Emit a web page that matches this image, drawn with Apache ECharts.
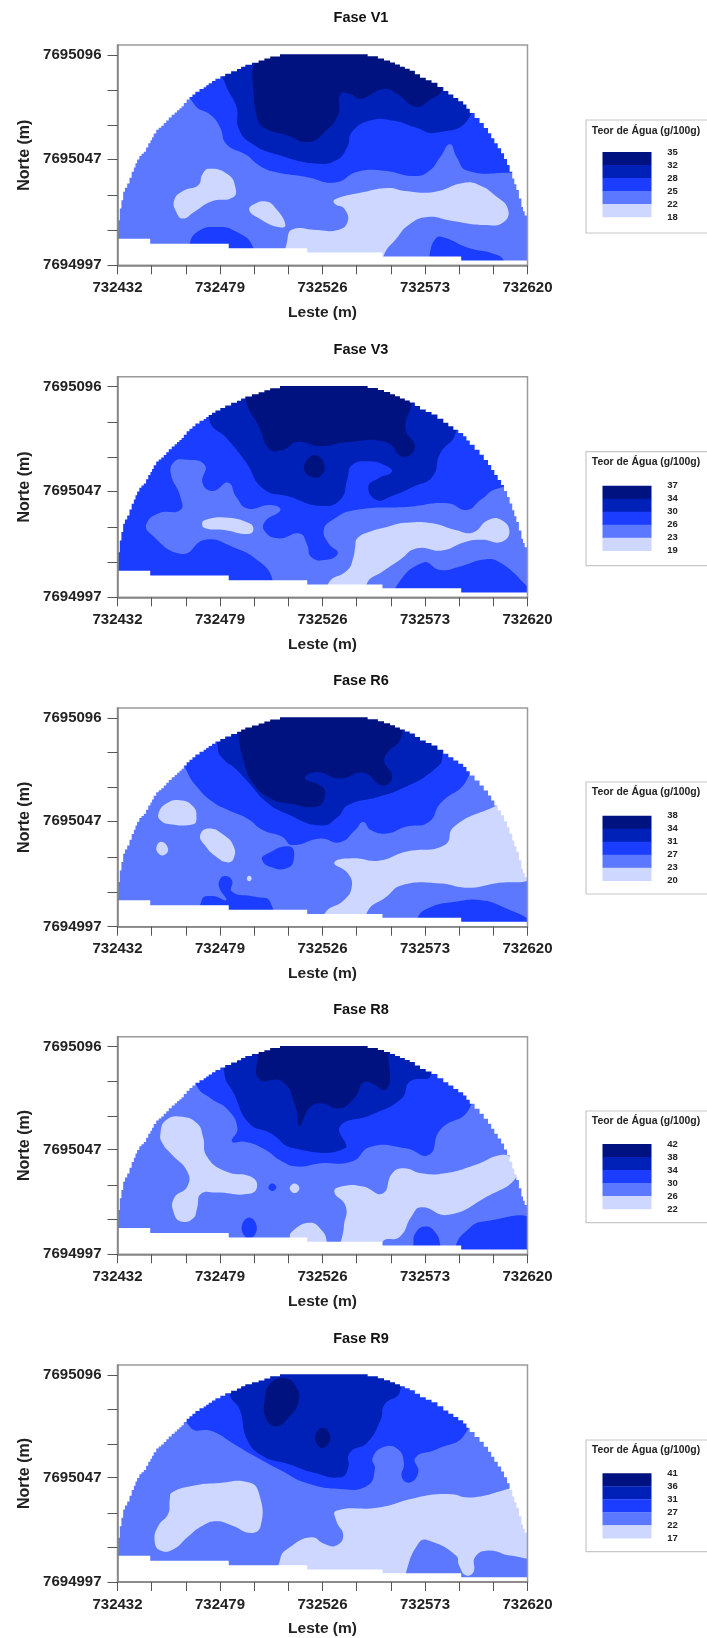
<!DOCTYPE html>
<html><head><meta charset="utf-8">
<style>html,body{margin:0;padding:0;background:#fff}#c{width:707px;height:1638px;filter:blur(0.7px)}</style>
<script src="https://cdn.jsdelivr.net/npm/echarts@6/dist/echarts.min.js"></script>
</head><body><div id="c"></div>
<script>
// Level colours: 0 lightest ... 4 darkest
const levelColors = ['#cdd7ff','#5b78ff','#1a3dff','#0021b8','#00127f'];
const titles = ['Fase V1','Fase V3','Fase R6','Fase R8','Fase R9'];
const xTickLabels = [732432,732479,732526,732573,732620];
const yTickLabels = [7694997,7695047,7695096];
const xTicks = [732432,732447.67,732463.33,732479,732494.67,732510.33,732526,732541.67,732557.33,732573,732588.67,732604.33,732620];
const yTicks = [7694997,7695013.5,7695030,7695047,7695063,7695079.5,7695096];
const legendTitle = 'Teor de Água (g/100g)';
const legendV1 = [35,32,28,25,22,18];
const legendV3 = [37,34,30,26,23,19];
const legendR6 = [38,34,31,27,23,20];
const legendR8 = [42,38,34,30,26,22];
const legendR9 = [41,36,31,27,22,17];
const EAST0 = 732432, NORTH0 = 7694997, EAST1 = 732620, NORTH_SPAN = 103.7;

// All contour vertices are metres east / north of (EAST0, NORTH0)
const domeLeft = [[0,15.6],[0.3,15.6],[1.8,26.7],[3.4,34.6],[5.5,38.5],[7.5,44],[9,48],[11,51.5],[13.1,53.5],[15.1,57.5],[16.6,60.3],[18.9,63.8],[21.2,65.7],[23.5,68.2],[26.2,70.9],[28.4,73],[30.4,74.9],[33,78],[35.7,80.4],[39.5,83],[41.8,84.7],[44.9,86.7],[49.4,89],[54.8,91.4],[58.6,93.5],[64.7,95.4],[70,97.3],[79,99.3]];
const domeRight = [[110,99.3],[119.4,97.4],[125,95.5],[129.5,93.5],[134,91.6],[138.7,88.3],[144,85.9],[149.4,82],[154,78.8],[158.5,75.7],[161.5,71.7],[166,67],[169.9,62.2],[172.8,57.5],[175.9,52.8],[178.6,47.2],[181,40.9],[182.9,35.4],[185.2,27.5],[186.7,23.5],[188,23.5]];
const bottomSteps = [[0,12.5],[15,10.2],[51,8],[87,6],[121.5,4.2],[157.6,2.3]];

const fullRect = [[-2,-2],[191,-2],[191,106],[-2,106]];

// Fase V1
const v1L2 = [[35,76],[43,70.5],[47,65],[50,57],[59,52],[65,47],[72,44],[87,41.5],[100,39],[110,44],[122,44.5],[136.5,42],[143,44.5],[148,51],[152.5,57],[155.5,51],[160.5,44.5],[181,43.5],[192,43.5],[192,108],[20,108]];
const v1L3 = [[48.8,87],[50.4,83],[54.6,74.4],[55.6,64.3],[62,57],[74.3,51.8],[90.9,47.9],[100.2,49.4],[105.4,55.7],[107.5,62.7],[115.8,68.2],[126.2,68.2],[136.5,65],[145.9,62.4],[161.4,69.8],[172,108],[40,108]];
const v1L4 = [[62.3,93],[62.3,83.8],[64,69.8],[67,65],[78.4,61],[87.8,58],[95,62.7],[101,70.5],[102.3,80.7],[106.4,80.7],[111.6,78.4],[122,83],[128.2,80.7],[136.5,74.8],[142.8,77.6],[148.6,83.8],[140,108],[70,108]];
const v1A = [[42,45.5],[50.4,43],[54,37],[53,32],[43,30],[35,25],[30,22],[27,25],[26,30.6],[30,35],[37,37.7],[39,43]];
const v1B = [[68,30],[72,27.5],[77,19],[73.5,18],[65,22],[60.4,26],[63,29]];
const v1C = [[99.6,31],[113,34.5],[124,36.4],[132,35],[145,34.5],[159,38.8],[166,37.7],[173,33],[179,26.6],[177,20.3],[168,19],[153,21],[142,22.7],[133.5,19],[128,12.7],[122,4.4],[122,-3],[78,-3],[78,12.7],[80.5,17],[91,16.6],[101,16.6],[105.5,20.5],[104,26.6],[99.6,29]];
const v1D = [[33,9.5],[37,16],[45.6,18],[54,16],[62,8.8],[62,-3],[33,-3]];
const v1E = [[143,4],[146,12.7],[150,13],[161.4,8],[172,5.6],[177,2.5],[177,-3],[143,-3]];

// Fase V3
const v3L1 = [[24.4,58.3],[26,63.7],[30.5,64.8],[40,62.2],[39,53.6],[43.8,50],[50.8,53.9],[54.4,47.3],[59.7,41.8],[70.2,43.4],[74.7,41],[67.6,35.5],[67.6,30.9],[73.8,27.7],[83.5,30],[87,24.6],[88.8,19],[95,17.5],[101,20.7],[96.7,25.4],[94.6,31.6],[98.5,36.3],[109,41],[133.8,42.6],[151.4,44.2],[160.3,41],[166.4,45.7],[174.4,51.2],[192,52],[192,5],[176,16],[169,17.9],[156.7,14.4],[148,12.8],[140,16.3],[127.6,4.7],[127.6,-3],[71,-3],[71,8.5],[65,16.8],[52.6,23.8],[40.2,27],[29.7,20.4],[14.6,30.4],[13.4,34.8],[19,39.5],[28.8,41],[28.8,47.3]];
const v3L3 = [[42,84],[50.8,74],[58.8,63.7],[66.7,51.2],[79,47.3],[93,43],[102,45.7],[105.5,56],[107.3,62],[114.4,64],[123,62],[125.8,59],[119.7,56],[115,52],[118.8,45.7],[125,47.3],[135.6,52],[144.4,56.7],[148,67.7],[155,77],[160,108],[45,108]];
const v3L4 = [[58.8,92.7],[65,80],[69.4,70],[75.5,69.2],[82.6,73],[93,71],[105.5,73],[123,73],[131,66],[136.4,70.8],[132,79.4],[134.7,91],[135,108],[58,108]];
const v3Isle = [[90.5,66.9],[95,62],[93,57],[89.7,56.4],[86,59],[86,63]];
const v3A = [[40.2,36.3],[49,37.5],[60.5,34.8],[62.3,31.6],[59.7,29.7],[49,31.6],[40.2,32.5],[38.8,34.5]];
const v3B = [[110,27.7],[116,30.9],[124,33.2],[132,35],[144.4,34.8],[155,31.6],[163,30.5],[170,36.3],[176,36.3],[179.7,30.9],[176,26],[167.3,27],[159.4,26],[148.8,22],[137.3,23],[129.4,17.5],[121.4,12],[114.4,6.6],[114.4,-3],[96.7,-3],[96.7,6.6],[105.5,12.8],[108.2,19],[109,23.8]];

// Fase R6
const r6L2 = [[32,73.4],[36.5,66.3],[43.6,59.2],[50.7,55.3],[59.5,51.3],[66.6,45.8],[75.5,42.6],[80,38.7],[93.2,41.8],[102,40],[109,45.8],[112.7,49.7],[116.2,45.8],[123.3,44.2],[132.2,47.4],[142.8,49.7],[148,58.4],[160.5,70.3],[172,108],[18,108]];
const r6L3 = [[46,84.5],[49,79],[54,75],[60.4,68],[68.4,59],[77.3,53.7],[93.2,48],[101,52],[105.6,57.6],[119.8,61.6],[130.4,65.5],[144.6,74],[149,81],[145,108],[48,108]];
const r6L4 = [[55.6,91.6],[57.8,79],[62.2,68],[70.2,60.8],[79,58.4],[91.4,57],[95,61.6],[94,66.3],[86,70.3],[91.4,73.4],[102,70.3],[112.7,73],[121.6,67],[126,71],[122.4,79.7],[130.4,90.8],[128,108],[56,108]];
const r6Isle = [[67.5,34],[79,38],[80.8,31.6],[77.3,27.6],[70,28.4],[66.3,31.6]];
const r6Low = [[38.6,12.6],[43.6,14.5],[49.8,12.6],[46.8,18.2],[46.8,22],[49.3,24],[52.5,22],[52.5,16.6],[63,14.2],[70,11.8],[70,-3],[38.6,-3]];
const r6A = [[18.8,53.7],[22.4,58.4],[28.5,60],[34.7,57],[36.2,51.3],[34.7,48.6],[24.1,48.6],[19.7,50.5]];
const r6B = [[37.9,43.4],[41.8,46.6],[48.9,43.4],[53.3,38],[53.3,32.4],[50.7,30.5],[45.4,33],[40,38.7]];
const r6C = [[20.2,40.3],[23.2,37],[21.4,34],[18.8,34.7],[17.9,38]];
const r6Dot = [[60.4,24.2],[61.5,22.9],[60.4,21.6],[59.3,22.9]];
const r6D = [[99.4,30.3],[107.4,32.4],[119.8,31.3],[132.2,35.5],[150,38.7],[154.3,47.4],[172,56.5],[182,60],[192,36],[192,24],[173,20.5],[160.5,18.5],[148,20.5],[130.4,19.7],[123.3,14.2],[114.5,7],[114.5,-3],[95,-3],[95,6.3],[103.8,12.6],[107.4,19],[105.6,25.3]];
const r6E = [[137.5,4],[143,9],[155,11.8],[166.7,12.6],[176.5,9.5],[192,1],[192,-3],[137.5,-3]];

// Fase R8
const r8L2 = [[36.5,80],[42.7,74.4],[50.7,68.8],[55,60],[52.5,53.7],[57.8,53.7],[66.6,50.5],[75.5,44.2],[82.6,41.8],[93.2,43.4],[107.4,44.2],[116.2,51.3],[132.2,50.5],[142.8,47.4],[148,59.3],[161.4,69.6],[172,108],[25,108]];
const r8L3 = [[49,86.3],[53.3,76.7],[60.4,62.4],[70.2,57.7],[80.8,50.5],[104.2,50.5],[102,60.9],[116.2,66.4],[130.4,74.4],[134,82.3],[143.7,85.5],[140,108],[50,108]];
const r8L4 = [[64.5,95],[64.9,83.6],[75.5,82.3],[81.7,70.4],[83.5,61.2],[87.9,69.6],[93.2,72],[102,69.6],[109,75],[113.6,82.3],[123.3,78.7],[124.2,94.2],[122,108],[66,108]];
const r8A = [[19.7,57.7],[22.3,64],[29.4,65.6],[36.5,62.4],[39.2,56],[41,46.6],[49.8,39.4],[61.3,37],[64,32.3],[60.4,28.8],[45.4,29.4],[38.3,28.8],[36.5,22],[34.7,17.2],[29.4,15.6],[25.9,19.5],[25.9,26.7],[32,32.3],[32,39.4],[25,47.4],[20.6,52.9]];
const r8Dot = [[81.2,33.8],[83.4,31.5],[81.2,29.2],[79,31.5]];
const r8Spot = [[71,33.8],[72.8,32],[71,30.2],[69.2,32]];
const r8Oval = [[60.4,17.5],[63.9,12.4],[60.4,7.5],[56.9,12.4]];
const r8Foot = [[80,10.8],[88,15],[93.5,11.6],[96,6],[96,-3],[79,-3],[79,7.6]];
const r8B = [[99.4,29.9],[103.8,32.6],[112.7,32.3],[121.6,29],[126,38.6],[131.3,41],[139.3,38.6],[150,38.6],[164,42.6],[176.5,47.4],[181,45],[183,37],[169.4,27.5],[151.7,18.8],[139.3,22.4],[134.8,18],[129.5,8.4],[121.6,6],[121.6,-3],[103,-3],[103.8,13.2],[104.7,22.7]];
const r8C = [[135.7,4.4],[136.6,10],[141,13.2],[145.5,10.8],[148,4.4],[148,-3],[135.7,-3]];
const r8E = [[155.2,4.4],[160.5,11.6],[167.6,15.6],[192,16],[192,-3],[155.2,-3]];

// Fase R9
const r9L2 = [[33,74.4],[43.6,72],[52.5,66.5],[61.3,61],[75.5,53],[86,47.5],[102,44.4],[114.5,46],[118,53.9],[117,59.4],[122.4,64.6],[128.6,63.4],[131.3,57],[130.4,50],[134,47.5],[137.9,52.3],[136.6,59.4],[146.4,63.4],[159.7,71.3],[172,108],[18,108]];
const r9L3 = [[51.6,89.5],[56,82.4],[59.5,68],[66.6,60.2],[79,56.2],[89.7,52.3],[102,50],[105.6,53.9],[106.5,61.8],[114.5,66.5],[120.7,77.6],[122.4,84.7],[129.5,91],[128,108],[50,108]];
const r9OvalA = [[77.3,97.4],[82.2,92.7],[83,86.3],[79,79.2],[72.8,74.4],[68,78.4],[67.5,87],[70.2,95]];
const r9OvalB = [[94,73.7],[97.6,68.9],[94,64],[90.6,68.9]];
const r9A = [[25,42.8],[34.7,46],[45.4,47.2],[60.4,47.5],[65.2,41.2],[65.7,27],[61.3,23.4],[52.5,27],[45.4,29],[39.2,27],[32,21.4],[25.9,15.8],[19.7,15],[17,19.8],[18.8,27],[23.2,32.5],[24,39.6]];
const r9B = [[100.3,34],[119.8,35.6],[137.5,40.4],[151.7,42],[162.3,40.4],[180,44.7],[184,46],[192,30],[192,13],[180,12.7],[170.3,15],[164,11.9],[163.2,4.8],[159.7,3.2],[156.6,8],[155.2,12.7],[142.8,19.8],[138.4,19],[132.2,4],[132.2,-3],[74.6,-3],[74.6,11],[79,16.6],[88.8,21.4],[95,18.2],[100.3,17.4],[103.5,22.2],[100.3,29.3]];

const layersV1 = [[1,fullRect],[2,v1L2],[3,v1L3],[4,v1L4],[0,v1A],[0,v1B],[0,v1C],[2,v1D],[2,v1E]];
const layersV3 = [[2,fullRect],[1,v3L1],[3,v3L3],[4,v3L4],[4,v3Isle],[0,v3A],[0,v3B]];
const layersR6 = [[1,fullRect],[2,r6L2],[3,r6L3],[4,r6L4],[2,r6Isle],[2,r6Low],[0,r6A],[0,r6B],[0,r6C],[0,r6Dot],[0,r6D],[2,r6E]];
const layersR8 = [[1,fullRect],[2,r8L2],[3,r8L3],[4,r8L4],[0,r8A],[0,r8Dot],[2,r8Spot],[2,r8Oval],[0,r8Foot],[0,r8B],[2,r8C],[2,r8E]];
const layersR9 = [[1,fullRect],[2,r9L2],[3,r9L3],[4,r9OvalA],[4,r9OvalB],[0,r9A],[0,r9B]];

// Layout in pixels for each panel
const panels = [
 {layers:layersV1, legend:legendV1, top:45,   bottom:265.3,  titleY:18,   boxTop:120,  boxBot:233,  lgTitle:131,  swTop:152},
 {layers:layersV3, legend:legendV3, top:376.7,bottom:597.3,  titleY:349.5,boxTop:451.7,boxBot:565.7,lgTitle:461.7,swTop:485.7},
 {layers:layersR6, legend:legendR6, top:708,  bottom:926.7,  titleY:680.7,boxTop:782,  boxBot:894,  lgTitle:792,  swTop:815.7},
 {layers:layersR8, legend:legendR8, top:1036.7,bottom:1254.3,titleY:1010, boxTop:1111, boxBot:1222.7,lgTitle:1120.7,swTop:1144},
 {layers:layersR9, legend:legendR9, top:1365, bottom:1583.3, titleY:1339, boxTop:1440, boxBot:1551.7,lgTitle:1450, swTop:1473.3}
];
const LEFT=117.5, RIGHT=527.5, FONT='"Liberation Sans",Arial,sans-serif';

// The mask outline walks the read dome edge in half-size stair steps
function stairs(list,pts,upFirst){
  list.forEach((p,i)=>{
    const n=list[i+1];
    pts.push(p);
    if(!n) return;
    const m=[(p[0]+n[0])/2,(p[1]+n[1])/2];
    if(upFirst){pts.push([p[0],m[1]],m,[m[0],n[1]]);}
    else{pts.push([m[0],p[1]],m,[n[0],m[1]]);}
  });
}
function topMaskPoints(){
  const pts=[[-2,106],[-2,15.6]];
  stairs(domeLeft,pts,true);
  stairs(domeRight,pts,false);
  pts.push([191,23.5],[191,106]);
  return pts;
}
function bottomMaskPoints(){
  const pts=[[-2,-3]];
  bottomSteps.forEach((s,i)=>{const n=bottomSteps[i+1]; pts.push([i?s[0]:-2,s[1]]); pts.push([n?n[0]:191,s[1]]);});
  pts.push([191,-3]);
  return pts;
}
const toData=p=>[EAST0+p[0],NORTH0+p[1]];
const topMask=topMaskPoints().map(toData), bottomMask=bottomMaskPoints().map(toData);

const grid=[],xAxis=[],yAxis=[],series=[],title=[],graphic=[];
panels.forEach((P,k)=>{
  grid.push({left:LEFT,width:RIGHT-LEFT,top:P.top,height:P.bottom-P.top,show:false});
  xAxis.push({type:'value',gridIndex:k,min:EAST0,max:EAST1,z:5,
    name:'Leste (m)',nameLocation:'center',nameGap:39,
    nameTextStyle:{fontFamily:FONT,fontWeight:'bold',fontSize:15.5,color:'#222'},
    axisLine:{show:true,onZero:false,lineStyle:{color:'#808080',width:1.5}},
    axisTick:{show:true,length:9,customValues:xTicks,lineStyle:{color:'#555',width:1}},
    axisLabel:{margin:15,customValues:xTickLabels,formatter:v=>String(Math.round(v)),fontFamily:FONT,fontWeight:'bold',fontSize:15,color:'#222',hideOverlap:false,showMinLabel:true,showMaxLabel:true},
    splitLine:{show:false}});
  yAxis.push({type:'value',gridIndex:k,min:NORTH0,max:NORTH0+NORTH_SPAN,z:5,
    name:'Norte (m)',nameLocation:'center',nameGap:87,nameRotate:90,
    nameTextStyle:{fontFamily:FONT,fontWeight:'bold',fontSize:16,color:'#222',align:'center',verticalAlign:'middle'},
    axisLine:{show:true,onZero:false,lineStyle:{color:'#808080',width:1.5}},
    axisTick:{show:true,length:10,customValues:yTicks,lineStyle:{color:'#555',width:1}},
    axisLabel:{margin:16,customValues:yTickLabels,formatter:v=>String(Math.round(v)),fontFamily:FONT,fontWeight:'bold',fontSize:15,color:'#222',hideOverlap:false,showMinLabel:true,showMaxLabel:true},
    splitLine:{show:false}});
  const items=P.layers.map(l=>({lvl:l[0],pts:l[1].map(toData)}));
  series.push({type:'custom',xAxisIndex:k,yAxisIndex:k,clip:true,silent:true,z:2,animation:false,
    data:items.map((_,i)=>[i]),
    renderItem:(params,api)=>{
      const it=items[api.value(0)], i=api.value(0);
      return {type:'polygon',z2:i,shape:{points:it.pts.map(p=>api.coord(p)),smooth:i===0?0:0.5},style:{fill:levelColors[it.lvl],stroke:null}};
    }});
  series.push({type:'custom',xAxisIndex:k,yAxisIndex:k,clip:true,silent:true,z:3,animation:false,
    data:[[0],[1]],
    renderItem:(params,api)=>{
      const m=api.value(0)===0?topMask:bottomMask;
      return {type:'polygon',shape:{points:m.map(p=>api.coord(p))},style:{fill:'#fff'}};
    }});
  series.push({type:'custom',xAxisIndex:k,yAxisIndex:k,clip:false,silent:true,z:4,animation:false,
    data:[[0]],
    renderItem:(params,api)=>{
      const a=api.coord([EAST0,NORTH0+NORTH_SPAN]), b=api.coord([EAST1,NORTH0]);
      return {type:'rect',shape:{x:a[0],y:a[1],width:b[0]-a[0],height:b[1]-a[1]},style:{fill:'none',stroke:'#9a9a9a',lineWidth:1.5}};
    }});
  title.push({text:titles[k],left:361,top:P.titleY-8,textAlign:'center',padding:0,
    textStyle:{fontFamily:FONT,fontWeight:'bold',fontSize:14.5,color:'#111',lineHeight:16}});
  // legend
  graphic.push({type:'rect',z:10,shape:{x:586,y:P.boxTop,width:130,height:P.boxBot-P.boxTop},style:{fill:'#fff',stroke:'#c8c8c8',lineWidth:1.2}});
  graphic.push({type:'text',z:11,x:646,y:P.lgTitle,style:{text:legendTitle,align:'center',verticalAlign:'middle',font:'bold 10.4px '+FONT,fill:'#222'}});
  const band=13;
  for(let b=0;b<5;b++){
    graphic.push({type:'rect',z:11,shape:{x:602.5,y:P.swTop+b*band,width:49,height:band+0.3},style:{fill:levelColors[4-b]}});
  }
  P.legend.forEach((v,i)=>{
    graphic.push({type:'text',z:11,x:672.5,y:P.swTop+i*band,style:{text:String(v),align:'center',verticalAlign:'middle',font:'bold 9.5px '+FONT,fill:'#222'}});
  });
});

const chart=echarts.init(document.getElementById('c'),null,{renderer:'canvas'});
chart.setOption({animation:false,backgroundColor:'#fff',title,grid,xAxis,yAxis,series,graphic});
</script></body></html>
